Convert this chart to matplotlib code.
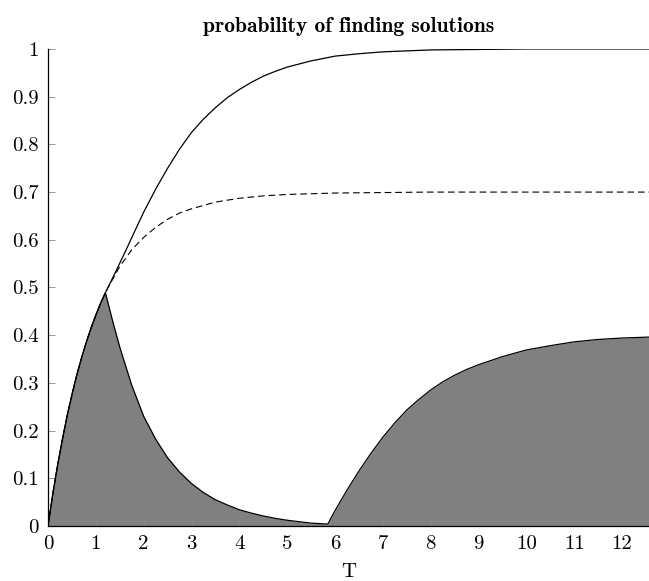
import matplotlib
matplotlib.use("Agg")
import matplotlib.pyplot as plt

plt.rcParams['font.family'] = ['cmr10', 'DejaVu Serif']
plt.rcParams['mathtext.fontset'] = 'cm'
plt.rcParams['axes.formatter.use_mathtext'] = True

# values
# first part (T < 1.2) is shared by all three curves
t_start = [0, 0.1, 0.2, 0.3, 0.4, 0.5, 0.6, 0.7, 0.8, 0.9, 1.0, 1.1, 1.2]
p_start = [0, 0.067, 0.127, 0.181, 0.231, 0.275, 0.316, 0.352, 0.385, 0.415,
           0.442, 0.467, 0.489]

t_solid = t_start + [1.4, 1.6, 1.8, 2.0, 2.25, 2.5, 2.75, 3.0, 3.25, 3.5, 3.75,
                     4.0, 4.25, 4.5, 4.75, 5.0, 5.5, 6.0, 6.5, 7.0, 7.5, 8.0,
                     9.0, 10.0, 12.566]
p_solid = p_start + [0.530, 0.572, 0.615, 0.658, 0.706, 0.750, 0.790, 0.825,
                     0.853, 0.877, 0.898, 0.915, 0.930, 0.943, 0.953, 0.962,
                     0.975, 0.985, 0.990, 0.994, 0.996, 0.998, 0.999, 1.0, 1.0]

t_dashed = t_start + [1.25, 1.5, 1.75, 2.0, 2.25, 2.5, 2.75, 3.0, 3.5, 4.0, 4.5,
                      5.0, 6.0, 7.0, 8.0, 10.0, 12.566]
p_dashed = p_start + [0.499, 0.544, 0.579, 0.605, 0.626, 0.643, 0.656, 0.665,
                      0.679, 0.687, 0.692, 0.695, 0.698, 0.699, 0.700, 0.700,
                      0.700]

t_fill = t_start + [1.35, 1.5, 1.75, 2.0, 2.25, 2.5, 2.75, 3.0, 3.25, 3.5, 3.75,
                    4.0, 4.25, 4.5, 4.75, 5.0, 5.25, 5.5, 5.85, 6.0, 6.25, 6.5,
                    6.75, 7.0, 7.25, 7.5, 7.75, 8.0, 8.25, 8.5, 8.75, 9.0, 9.5,
                    10.0, 10.5, 11.0, 11.5, 12.0, 12.566]
p_fill = p_start + [0.430, 0.375, 0.295, 0.230, 0.182, 0.143, 0.113, 0.089,
                    0.070, 0.055, 0.044, 0.034, 0.027, 0.021, 0.016, 0.012,
                    0.009, 0.006, 0.004, 0.032, 0.075, 0.115, 0.152, 0.186,
                    0.216, 0.243, 0.265, 0.285, 0.302, 0.316, 0.328, 0.338,
                    0.355, 0.369, 0.378, 0.386, 0.391, 0.394, 0.396]

x_ticks = list(range(0, 13))
y_ticks = [0, 0.1, 0.2, 0.3, 0.4, 0.5, 0.6, 0.7, 0.8, 0.9, 1]
y_labels = ['0', '0.1', '0.2', '0.3', '0.4', '0.5', '0.6', '0.7', '0.8', '0.9', '1']

fig = plt.figure(figsize=(6.49, 5.81), dpi=100)
ax = fig.add_axes([0.074, 0.0947, 0.926, 0.821])

ax.fill_between(t_fill, p_fill, 0, color='#808080', linewidth=0)
ax.plot(t_fill, p_fill, color='black', lw=0.9)
ax.plot(t_dashed, p_dashed, color='black', lw=0.8, linestyle=(0, (6, 3.5)))
ax.plot(t_solid, p_solid, color='black', lw=0.9)

ax.set_xlim(0, 12.566)
ax.set_ylim(0, 1)
ax.set_xticks(x_ticks, [str(v) for v in x_ticks])
ax.set_yticks(y_ticks, y_labels)
ax.tick_params(direction='in', length=5, width=0.6, color='#888888',
               labelsize=15, pad=6.5)

for side in ['top', 'right']:
    ax.spines[side].set_visible(False)
for side in ['left', 'bottom']:
    ax.spines[side].set_linewidth(0.9)

ax.set_title('probability of finding solutions', fontsize=15.5,
             family=['cmb10', 'DejaVu Serif'], pad=12)
ax.set_xlabel('T', fontsize=15, labelpad=7)

fig.savefig('out.png', dpi=100)
